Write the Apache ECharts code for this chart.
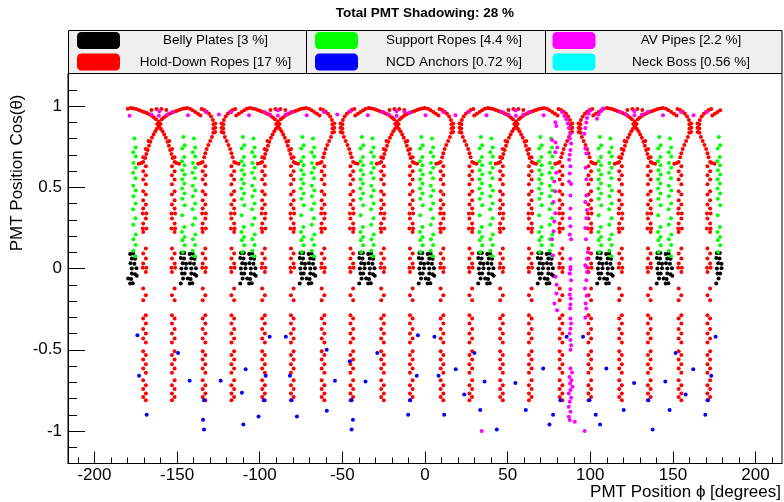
<!DOCTYPE html>
<html><head><meta charset="utf-8">
<script src="https://cdn.jsdelivr.net/npm/echarts@6/dist/echarts.min.js"></script>
<style>html,body{margin:0;padding:0;background:#fff}#c{width:784px;height:502px}</style>
</head><body><div id="c"></div>
<script>
// ---------------- data ----------------
const xMajorTicks = [-200, -150, -100, -50, 0, 50, 100, 150, 200];
const xMinorTicks = [-210,-200,-190,-180,-170,-160,-150,-140,-130,-120,-110,-100,-90,-80,-70,-60,-50,-40,-30,-20,-10,0,10,20,30,40,50,60,70,80,90,100,110,120,130,140,150,160,170,180,190,200,210];
const yMajorTicks = [-1, -0.5, 0, 0.5, 1];
const yMinorTicks = [-1.1,-1,-0.9,-0.8,-0.7,-0.6,-0.5,-0.4,-0.3,-0.2,-0.1,0,0.1,0.2,0.3,0.4,0.5,0.6,0.7,0.8,0.9,1,1.1];

// belly plate centres, rope crossing points and rope neck points (phi, degrees)
const bellyPlateCentres = [-179, -143, -107, -71, -35, 1, 37, 73, 109, 145];
const ropeCrossings = [-161, -89, -17, 55, 127];
const ropeNecks = [-125, -53, 19, 91, 163];
const supportOffset = 3.2;   // support rope columns either side of a plate (deg)
const ropeOffset = 9.3;      // hold-down rope columns either side of a plate (deg)

// belly plate patch: [dphi, cos]
const bellyPatch = [[-4.4,0.095],[-2.6,0.095],[0.6,0.09],[2.4,0.092],
 [-4.8,0.065],[-2.8,0.062],[1.6,0.062],[3.6,0.06],
 [-3.6,0.032],[-1.6,0.03],[0.8,0.032],[3.2,0.03],
 [-4.4,0.0],[-1.6,0.002],[1.6,0.0],[4.4,0.002],
 [-4.0,-0.03],[-2.4,-0.031],[1.6,-0.03],[3.6,-0.035],
 [-3.4,-0.062],[-0.6,-0.062],[1.2,-0.065],[4.6,-0.045],
 [-4.8,-0.092],[0.6,-0.092],[2.2,-0.09]];

// support rope columns: [dphi, cos]
const supportColumnLeft = [[0,0.81],[0.8,0.758],[-0.7,0.738],[0.6,0.686],[-0.8,0.66],[0.7,0.635],[-0.6,0.605],[0.8,0.578],[-0.7,0.549],[0.6,0.523],[-0.8,0.492],[0.7,0.461],[-0.6,0.43],[0.8,0.39],[-0.7,0.328],[0.6,0.256],[-0.8,0.225],[0.7,0.194],[-0.6,0.174],[0.8,0.143],[-0.4,0.102]];
const supportColumnRight = [[0,0.80],[0.7,0.745],[-0.7,0.715],[0.8,0.69],[-0.6,0.65],[0.7,0.62],[-0.8,0.59],[0.6,0.555],[-0.7,0.51],[0.8,0.48],[-0.6,0.445],[0.7,0.40],[-0.8,0.365],[0.6,0.31],[-0.7,0.27],[0.8,0.21],[-0.6,0.18],[0.7,0.145],[-0.7,0.11],[0.6,0.075]];

// hold-down rope vertical column: [dphi, cos]
const holdDownColumn = [[0.8,0.656],[-0.8,0.629],[0.8,0.598],[-0.8,0.574],[0.8,0.547],[-0.8,0.518],[0.8,0.475],[-0.8,0.455],[0.8,0.42],[-0.8,0.394],[0.8,0.369],[-1.1,0.338],[1.1,0.338],[-0.8,0.307],[0.8,0.277],[-1.1,0.246],[1.1,0.246],[0.8,0.225],[-0.8,0.123],[0.8,0.092],[-0.8,0.061],[0.8,0.031],[-1.1,0.004],[1.1,0.004],[-0.8,-0.021],[0.8,-0.123],[-0.8,-0.164],[0.8,-0.195],[-0.8,-0.287],[0.8,-0.308],[-0.8,-0.338],[0.8,-0.373],[-0.8,-0.40],[0.8,-0.43],[-0.8,-0.455],[0.8,-0.509],[-0.8,-0.533],[0.8,-0.56],[-0.8,-0.589],[0.8,-0.615],[-0.8,-0.642],[0.8,-0.687],[-0.8,-0.718],[0.8,-0.742],[-0.8,-0.769],[0.8,-0.79],[-0.8,-0.81]];
// hold-down rope dots bending inward over each plate: [dphi from plate, cos]
const holdDownPlateTop = [[-7.4,0.65],[-5.8,0.645],[5.8,0.645],[7.4,0.65]];

// hold-down ropes crossing near the top: [dphi from crossing, cos]
const holdDownCross = [
 [-8.3,0.68],[-9.5,0.685],[-7.6,0.705],[-6.8,0.73],[-8,0.735],[-6,0.755],[-5.2,0.78],[-6.3,0.785],[-4.2,0.805],[-3.2,0.825],[-2.2,0.845],[-1.2,0.86],
 [8.3,0.68],[9.5,0.685],[7.6,0.705],[6.8,0.73],[8,0.735],[6,0.755],[5.2,0.78],[6.3,0.785],[4.2,0.805],[3.2,0.825],[2.2,0.845],[1.2,0.86],
 [0,0.875],[-1,0.89],[1,0.89],[0,0.905],
 [-1.8,0.918],[1.8,0.918],[-3,0.93],[3,0.93],[-4.4,0.94],[4.4,0.94],[-5.9,0.95],[5.9,0.95],[-7.4,0.957],[7.4,0.957],[-9,0.963],[9,0.963],
 [-4.5,0.975],[-1.5,0.982],[1.5,0.982],[4.5,0.975],
 [10.6,0.97],[12.2,0.976],[13.8,0.981],[15.4,0.985],[17,0.987],[18.8,0.983],[20.4,0.974],[22,0.963],[23.6,0.952],[25.2,0.942],
 [-10.6,0.97],[-12.2,0.976],[-13.8,0.981],[-15.4,0.985],[-17,0.987],[-18.8,0.983],[-20.4,0.974],[-22,0.963],[-23.6,0.952],[-25.2,0.942]
];
// hold-down ropes at the narrow neck: [dphi from neck, cos]
const holdDownNeck = [
 [-8.6,0.685],[-7.9,0.71],[-7.1,0.735],[-6.1,0.76],[-5,0.785],[-3.9,0.81],[-3.1,0.835],[-2,0.84],[-3,0.862],[-1.9,0.866],[-3,0.888],[-1.9,0.892],[-3.3,0.914],[-4.4,0.935],[-5.7,0.952],[-7.1,0.965],[-8.6,0.975],[-10.2,0.982],
 [8.6,0.685],[7.9,0.71],[7.1,0.735],[6.1,0.76],[5,0.785],[3.9,0.81],[3.1,0.835],[2,0.84],[3,0.862],[1.9,0.866],[3,0.888],[1.9,0.892],[3.3,0.914],[4.4,0.935],[5.7,0.952],[7.1,0.965],[8.6,0.975],[10.2,0.982]
];

// NCD anchors: [phi, cos]
const ncdAnchors = [[-174,-0.41],[-173,-0.66],[-168.4,-0.90],[-149.4,-0.52],[-142.4,-0.69],[-133.7,-0.81],[-134.3,-0.93],[-133.7,-0.99],
 [-123.6,-0.69],[-108.5,-0.62],[-110.8,-0.765],[-109.9,-0.96],[-94,-0.42],[-96.4,-0.66],[-97.5,-0.81],[-100.7,-0.91],[-84.2,-0.42],[-81.7,-0.66],[-80.7,-0.81],[-77.5,-0.91],[-59.5,-0.50],[-54.5,-0.69],[-59.4,-0.876],[-45.5,-0.57],
 [-28.9,-0.52],[-36,-0.695],[-44.4,-0.81],[-43.6,-0.93],[-44.4,-0.99],[-4.3,-0.41],[-5,-0.66],[-9,-0.81],[-10.2,-0.90],[5.7,-0.42],[8.2,-0.66],[11.6,-0.90],[18.6,-0.62],[23.7,-0.775],[29.9,-0.52],[36,-0.695],[33.4,-0.87],
 [43.4,-0.99],[54.7,-0.705],[71.5,-0.615],[61,-0.87],[85.7,-0.42],[95.6,-0.42],[81.9,-0.81],[99.5,-0.81],[77.5,-0.90],[75.3,-0.96],[103.3,-0.90],[105.9,-0.96],[109.7,-0.615],[120.2,-0.87],
 [126.5,-0.705],[137.7,-0.99],[135.1,-0.81],[145.4,-0.695],[148,-0.87],[151.6,-0.52],[162.3,-0.62],[157.7,-0.775],[175.8,-0.42],[173.2,-0.66],[171.2,-0.81],[169.6,-0.90]];

// AV pipes: [phi, cos]
const avPipes = [[-178.7,0.94],[-165.5,0.947],[-160.7,0.967],[-161,0.94],[-155.9,0.947],[-152.7,0.963],[-143.4,0.943],[-132.7,0.963],[-124.7,0.947],[-117.2,0.963],[-106.5,0.943],[-97,0.963],[-93.8,0.947],[-89,0.973],[-89,0.94],[-84.3,0.947],[-80.9,0.963],[-71.6,0.943],[-61.2,0.963],[-53.1,0.947],[-45,0.967],[-34.6,0.943],[-25.3,0.963],[-21.9,0.947],[-17.2,0.967],[-17.2,0.94],[-12.4,0.963],[-9.2,0.96],[0.3,0.943],[11,0.963],[18.4,0.943],[26.5,0.963],[37.2,0.943],[46.7,0.963],[50.5,0.947],[54.7,0.973],[55,0.94],[59.5,0.947],[62.8,0.963],[71.8,0.943],[118.2,0.963],[121.8,0.947],[126.7,0.967],[126.7,0.943],[131.3,0.947],[134.7,0.963],[144,0.943],[154.9,0.963],[162.5,0.943],[170.6,0.963],
 [78.9,0.90],[79.5,0.877],[82.9,0.963],[84.3,0.939],[85.5,0.918],[86.3,0.892],[87,0.865],
 [88,0.83],[87.6,0.80],[88.4,0.77],[88,0.73],[87.6,0.70],[87.2,0.67],[88,0.63],[87.6,0.585],[87.2,0.536],[88.4,0.52],[88,0.45],[88,0.37],[87.6,0.31],[88,0.26],[87.6,0.21],[88.4,0.18],[88,0.06],[88,0.01],[87.6,-0.03],
 [76.9,0.79],[79,0.775],[80,0.745],[78.8,0.715],[79.4,0.59],[78.2,0.536],[78.8,0.475],[77.8,0.41],[78.8,0.34],[78.2,0.29],[77.8,0.23],[76.9,0.18],[77.4,0.08],
 [100,0.973],[99,0.953],[98,0.926],[97.6,0.898],[97,0.865],[96.4,0.83],
 [107.7,0.984],[106.5,0.968],[105.1,0.947],[104.1,0.922],
 [97,0.738],[97.6,0.707],[97.2,0.62],[97.6,0.55],[97.6,0.45],[97,0.41],[98,0.36],[97.6,0.31],[97,0.25],[97.4,0.18],[98.6,0.10],[98,0.06],[97.6,0.01],
 [79.5,-0.154],[78.3,-0.215],[79.9,-0.257],[79,-0.05],[79.6,-0.1],
 [88,-0.004],[87.5,-0.031],[88.4,-0.072],[88,-0.127],[87.6,-0.16],[88.2,-0.185],[88,-0.222],[87.8,-0.246],[88,-0.308],[88.4,-0.338],[88,-0.37],[87.6,-0.40],[88,-0.44],[88.4,-0.472],[88,-0.50],[88,-0.615],[89,-0.64],[87.4,-0.667],[88.6,-0.687],[87.8,-0.707],[89.2,-0.728],[88,-0.748],[87,-0.769],[88.4,-0.795],[87.6,-0.82],[87,-0.851],[88,-0.882],[87,-0.912],[87.6,-0.933],[90.6,-0.943],
 [97,0.02],[98,-0.021],[97.6,-0.072],[96.8,-0.123],[97.8,-0.168],[97.2,-0.215],[97.6,-0.246],[97,-0.303],
 [34.3,-1.0],[96.6,-1.0]];

// neck boss: none visible
const neckBoss = [];

const seriesNames = ['Belly Plates [3 %]', 'Support Ropes [4.4 %]', 'AV Pipes [2.2 %]', 'Hold-Down Ropes [17 %]', 'NCD Anchors [0.72 %]', 'Neck Boss [0.56 %]'];
const seriesColors = ['#000000', '#00ff00', '#ff00ff', '#ff0000', '#0000ff', '#00ffff'];

// ---------------- build point tables ----------------
function wrapPhi(p) { return p > 180 ? p - 360 : (p < -180 ? p + 360 : p); }
function place(list, centre, out, sign) {
  list.forEach(function (d) { out.push([wrapPhi(centre + (sign || 1) * d[0]), d[1]]); });
}
const belly = [], support = [], holdDown = [];
bellyPlateCentres.forEach(function (b) {
  place(bellyPatch, b, belly);
  place(supportColumnLeft, b - supportOffset, support);
  place(supportColumnRight, b + supportOffset, support);
  place(holdDownColumn, b - ropeOffset, holdDown);
  place(holdDownColumn, b + ropeOffset, holdDown, -1);
  place(holdDownPlateTop, b, holdDown);
});
ropeCrossings.forEach(function (c) { place(holdDownCross, c, holdDown); });
ropeNecks.forEach(function (m) { place(holdDownNeck, m, holdDown); });

const seriesData = [belly, support, avPipes, holdDown, ncdAnchors, neckBoss];
const drawOrder = [0, 3, 1, 4, 2, 5];

// ---------------- chart ----------------
const FONT = "'Liberation Sans', Arial, Helvetica, sans-serif";
const chart = echarts.init(document.getElementById('c'), null, { renderer: 'canvas' });

const legendCells = [
  { left: 77, top: 32, w: 181 }, { left: 315, top: 32, w: 182 }, { left: 552.5, top: 32, w: 181 },
  { left: 77, top: 53.5, w: 181 }, { left: 315, top: 53.5, w: 182 }, { left: 552.5, top: 53.5, w: 181 }
];
const legends = seriesNames.map(function (n, i) {
  return {
    data: [n], left: legendCells[i].left, top: legendCells[i].top, padding: 0,
    orient: 'horizontal', itemWidth: 43, itemHeight: 17, icon: 'roundRect',
    selectedMode: false, z: 10,
    itemStyle: { opacity: 1 },
    formatter: function (name) { return '{t|' + name + '}'; },
    textStyle: { rich: { t: { width: legendCells[i].w, align: 'center', fontSize: 13.5, fontFamily: FONT, color: '#000' } } }
  };
});

const series = drawOrder.map(function (i) {
  return {
    name: seriesNames[i], type: 'scatter', data: seriesData[i],
    symbol: 'circle', symbolSize: 4, itemStyle: { color: seriesColors[i], opacity: 1 },
    xAxisIndex: 0, yAxisIndex: 0, animation: false, silent: true
  };
});

chart.setOption({
  animation: false,
  backgroundColor: '#ffffff',
  title: {
    text: 'Total PMT Shadowing: 28 %', left: 425, top: 6, padding: 0, textAlign: 'center',
    textStyle: { fontSize: 13.5, fontWeight: 'bold', fontFamily: FONT, color: '#000' }
  },
  legend: legends,
  grid: { left: 68, right: 2, top: 73.5, bottom: 38.5, show: true, borderColor: '#000', borderWidth: 1, backgroundColor: 'transparent' },
  xAxis: [{
    type: 'value', min: -216, max: 216, position: 'bottom',
    name: 'PMT Position \u03d5 [degrees]', nameLocation: 'end', nameGap: -1, nameMoveOverlap: false,
    nameTextStyle: { align: 'right', verticalAlign: 'top', padding: [20, 0, 0, 0], fontSize: 17, fontFamily: FONT, color: '#000' },
    axisLine: { show: true, onZero: false, lineStyle: { color: '#000', width: 1 } },
    axisTick: { show: true, inside: true, length: 12, customValues: xMajorTicks, lineStyle: { color: '#000' } },
    axisLabel: { show: true, customValues: xMajorTicks, fontSize: 17, fontFamily: FONT, color: '#000', margin: 3 },
    splitLine: { show: false }
  }, {
    type: 'value', min: -216, max: 216, position: 'bottom',
    axisLine: { show: false, onZero: false },
    axisTick: { show: true, inside: true, length: 6, customValues: xMinorTicks, lineStyle: { color: '#000' } },
    axisLabel: { show: false }, splitLine: { show: false }
  }],
  yAxis: [{
    type: 'value', min: -1.2, max: 1.2, position: 'left',
    name: 'PMT Position Cos(\u03b8)', nameLocation: 'end', nameRotate: 90, nameGap: -21, nameMoveOverlap: false,
    nameTextStyle: { align: 'right', verticalAlign: 'bottom', padding: [0, 0, 42, 0], fontSize: 17, fontFamily: FONT, color: '#000' },
    axisLine: { show: true, onZero: false, lineStyle: { color: '#000', width: 1 } },
    axisTick: { show: true, inside: true, length: 17, customValues: yMajorTicks, lineStyle: { color: '#000' } },
    axisLabel: { show: true, customValues: yMajorTicks, fontSize: 17, fontFamily: FONT, color: '#000', margin: 6 },
    splitLine: { show: false }
  }, {
    type: 'value', min: -1.2, max: 1.2, position: 'left',
    axisLine: { show: false, onZero: false },
    axisTick: { show: true, inside: true, length: 9, customValues: yMinorTicks, lineStyle: { color: '#000' } },
    axisLabel: { show: false }, splitLine: { show: false }
  }],
  graphic: [
    { type: 'rect', z: 5, shape: { x: 68.5, y: 30.5, width: 713.5, height: 43 }, style: { fill: '#efefef', stroke: '#000', lineWidth: 1 } },
    { type: 'line', z: 6, shape: { x1: 306.5, y1: 30.5, x2: 306.5, y2: 73.5 }, style: { stroke: '#000', lineWidth: 1 } },
    { type: 'line', z: 6, shape: { x1: 545.5, y1: 30.5, x2: 545.5, y2: 73.5 }, style: { stroke: '#000', lineWidth: 1 } }
  ],
  series: series
});
</script></body></html>
